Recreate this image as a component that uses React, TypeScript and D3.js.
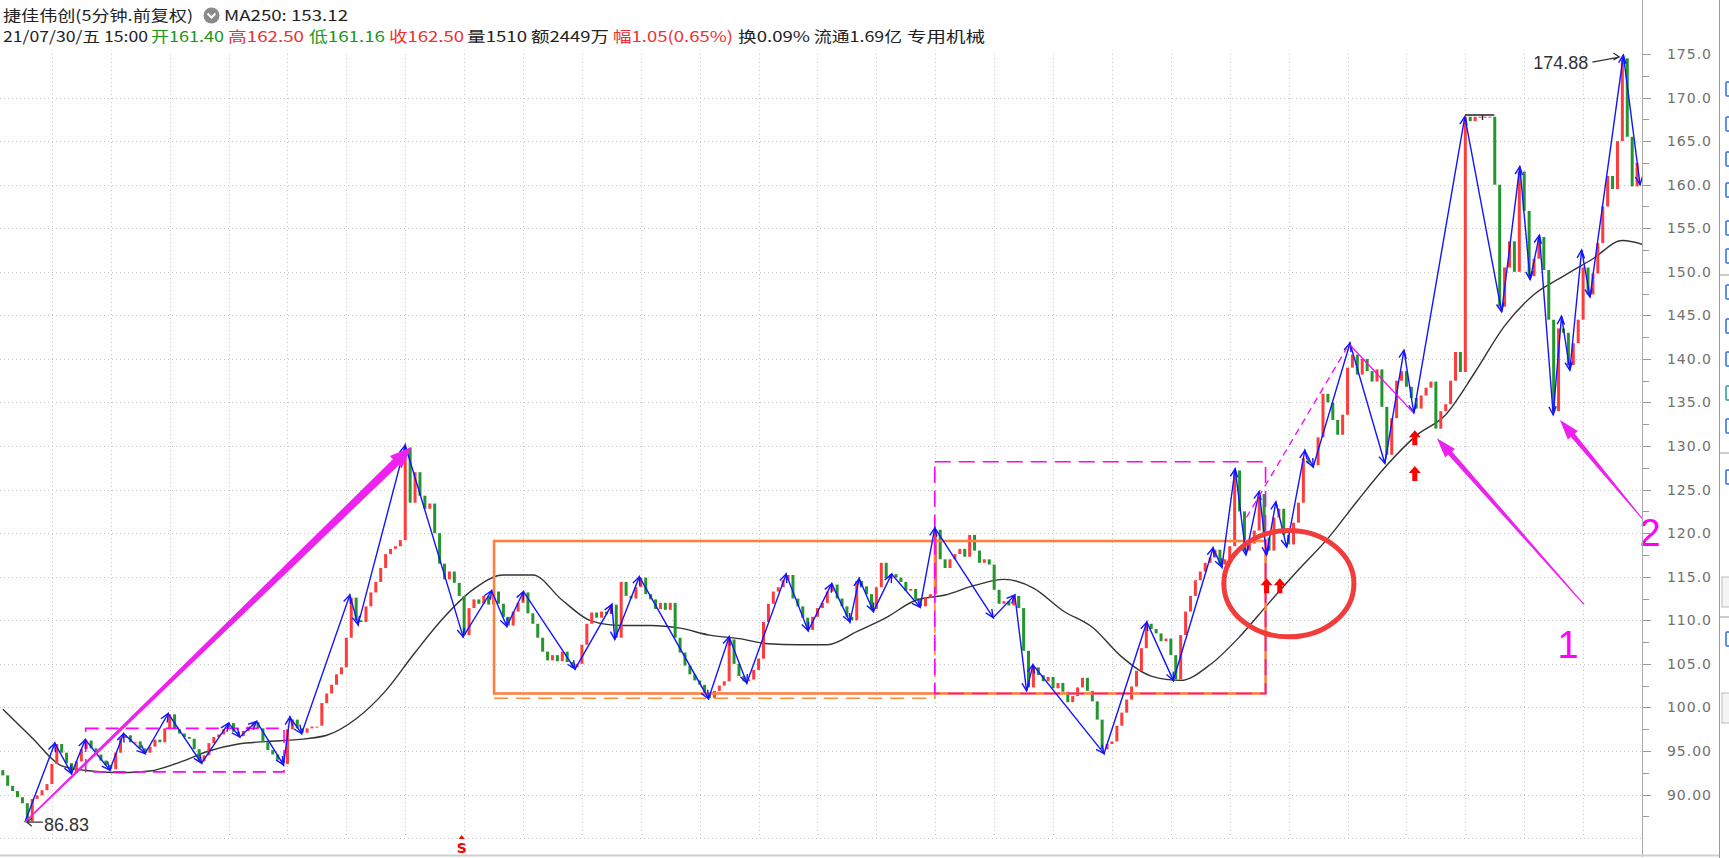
import React from "react";
import * as d3 from "d3";

const W = 1729;
const H = 858;

// header texts
const stockTitle = "捷佳伟创(5分钟.前复权)";
const maTitle = "MA250: 153.12";
const quoteParts = [
  { text: "21/07/30/五 15:00", color: "#222" },
  { text: "开161.40", color: "#1a961a" },
  { text: "高162.50", color: "#f03030" },
  { text: "低161.16", color: "#1a961a" },
  { text: "收162.50", color: "#f03030" },
  { text: "量1510", color: "#222" },
  { text: "额2449万", color: "#222" },
  { text: "幅1.05(0.65%)", color: "#f03030" },
  { text: "换0.09%", color: "#222" },
  { text: "流通1.69亿", color: "#222" },
  { text: "专用机械", color: "#222" },
];
// x start / width of each header piece
const quoteLayout = [
  [3, 145], [151, 73], [228, 76], [309, 76], [389, 75], [467, 60],
  [531, 78], [613, 120], [738, 72], [814, 88], [907, 78],
];

// price axis
const priceTicks = [175, 170, 165, 160, 155, 150, 145, 140, 135, 130, 125, 120, 115, 110, 105, 100, 95, 90];
const priceLabels = ["175.0", "170.0", "165.0", "160.0", "155.0", "150.0", "145.0", "140.0", "135.0", "130.0",
  "125.0", "120.0", "115.0", "110.0", "105.0", "100.0", "95.00", "90.00"];

// closes, one per 1/12 trading day
const closes = [
  92.2, 91.0, 90.4, 89.7, 89.0, 86.9, 89.5, 89.9, 90.5, 91.2,
  93.5, 95.8, 94.8, 93.6, 92.5, 93.8, 95.2, 96.2, 95.3, 94.6,
  93.9, 93.4, 92.9, 94.8, 96.5, 96.8, 96.0, 96.1, 95.3, 94.8,
  95.5, 96.3, 96.0, 97.6, 99.2, 97.5, 97.0, 96.6, 96.4, 95.2,
  93.8, 94.5, 95.9, 96.6, 96.9, 97.5, 98.2, 97.2, 96.7, 97.3,
  97.8, 98.3, 97.6, 96.0, 95.1, 94.6, 94.0, 93.5, 97.5, 98.6,
  97.6, 97.1, 97.6, 97.8, 97.9, 100.5, 101.6, 102.6, 103.8, 104.6,
  108.0, 112.6, 110.0, 109.8, 111.6, 113.2, 114.4, 116.0, 117.6, 118.2,
  118.5, 119.2, 129.8, 123.5, 127.0, 124.3, 122.8, 123.4, 120.0, 116.5,
  114.7, 115.6, 114.3, 112.8, 108.3, 111.4, 112.4, 111.9, 112.8, 111.8,
  113.3, 111.9, 110.4, 109.4, 111.0, 112.0, 113.2, 110.8, 109.6, 108.0,
  106.4, 105.4, 106.0, 105.3, 106.4, 105.2, 104.6, 105.0, 107.2, 109.6,
  110.9, 110.3, 111.0, 110.7, 111.8, 108.0, 114.4, 112.8, 112.5, 113.8,
  114.9, 113.0, 112.4, 111.3, 112.0, 111.2, 112.0, 108.0, 106.3, 104.8,
  103.8, 103.1, 102.6, 101.7, 101.1, 101.9, 102.5, 103.0, 107.8, 105.0,
  103.6, 103.0, 103.2, 104.3, 105.6, 109.8, 111.9, 113.3, 113.8, 114.6,
  115.2, 112.5, 111.6, 110.3, 108.9, 110.4, 111.4, 112.0, 113.3, 114.1,
  112.5, 111.6, 110.4, 110.0, 114.5, 113.9, 113.0, 111.3, 113.8, 116.6,
  114.8, 115.3, 114.9, 114.4, 113.4, 113.6, 112.4, 111.6, 112.6, 113.0,
  120.4, 117.0, 116.0, 117.0, 117.6, 118.2, 117.3, 119.8, 118.0, 116.6,
  117.0, 116.4, 113.5, 111.9, 112.2, 111.7, 112.8, 111.4, 106.5, 102.3,
  104.6, 103.7, 103.0, 103.5, 102.2, 102.8, 101.8, 100.6, 101.3, 102.3,
  103.4, 101.9, 100.7, 98.6, 95.2, 95.8, 96.1, 97.9, 99.4, 100.9,
  102.4, 104.2, 106.8, 109.6, 109.0, 108.5, 107.6, 107.9, 106.0, 103.2,
  108.3, 111.0, 112.8, 114.6, 115.6, 116.6, 117.2, 118.1, 116.4, 117.0,
  118.5, 127.2, 122.5, 118.0, 118.8, 120.3, 124.5, 119.5, 118.0, 121.8,
  122.8, 119.8, 118.7, 121.2, 123.5, 128.6, 128.0, 127.8, 131.0, 136.0,
  135.0, 133.0, 131.3, 133.6, 139.0, 140.5, 138.2, 140.0, 138.6, 137.4,
  138.8, 134.5, 129.0, 133.2, 137.5, 138.6, 136.8, 135.5, 134.3, 135.8,
  136.7, 137.4, 132.0, 134.0, 134.8, 137.5, 140.8, 138.5, 167.8, 167.3,
  167.8, 167.8, 167.8, 167.8, 160.0, 146.0, 150.5, 153.5, 150.0, 161.5,
  157.0, 149.5, 151.5, 154.0, 150.2, 144.5, 134.0, 143.5, 143.0, 139.3,
  141.8, 144.5, 150.5, 147.4, 149.8, 153.3, 157.5, 161.0, 159.5, 165.0,
  174.5, 165.5, 159.8, 162.5,
];

// MA250, one value every 6 bars
const ma250 = [
  99.8, 96.5, 93.3, 92.7, 92.5, 92.7, 93.7, 95.0, 95.8, 96.1,
  96.3, 96.8, 98.7, 101.9, 106.3, 110.4, 113.6, 115.2, 115.2, 112.3,
  109.9, 109.4, 109.4, 109.1, 108.3, 107.9, 107.3, 107.2, 107.2, 108.7,
  110.3, 112.3, 112.9, 114.0, 114.7, 113.7, 111.1, 109.2, 105.8, 103.6,
  103.1, 104.9, 108.1, 112.0, 115.8, 119.4, 123.7, 127.8, 131.2, 133.6,
  138.5, 143.8, 147.4, 149.5, 151.5, 153.6, 152.8,
];
const maStep = 6;

// zigzag pivots (bar position, price)
const zigIdx = [
  4.5, 10.6, 14.0, 16.8, 21.8, 24.6, 29.0, 33.7, 40.5, 46.0,
  48.3, 51.7, 57.2, 58.5, 60.9, 70.7, 72.4, 82.0, 93.8, 99.6,
  102.7, 106.1, 116.6, 124.1, 124.7, 129.7, 143.8, 148.0, 151.6, 159.6,
  164.1, 168.9, 172.6, 174.5, 177.4, 181.1, 186.9, 189.9, 201.8, 206.2,
  208.6, 209.9, 224.4, 233.1, 238.5, 246.6, 248.4, 251.1, 253.3, 256.0,
  257.5, 259.4, 261.6, 265.3, 267.0, 274.5, 281.6, 285.5, 287.5, 297.9,
  305.4, 309.1, 311.2, 313.1, 315.9, 317.6, 319.3, 321.7, 323.4, 330.2,
  333.6,
];
const zigPrice = [
  86.83, 95.9, 92.4, 96.3, 92.8, 97.0, 94.7, 99.3, 93.6, 98.2,
  96.6, 98.4, 93.4, 98.9, 97.0, 112.9, 109.5, 130.1, 108.1, 113.4,
  109.3, 113.3, 104.4, 111.8, 107.8, 115.0, 101.0, 108.1, 102.8, 115.3,
  108.8, 114.2, 109.8, 114.8, 111.0, 115.3, 111.5, 120.6, 110.3, 112.9,
  101.9, 104.9, 94.7, 109.8, 103.1, 118.3, 116.1, 127.4, 117.5, 124.8,
  117.5, 123.6, 118.4, 129.5, 127.6, 141.8, 128.0, 141.0, 133.8, 167.8,
  145.4, 162.1, 149.1, 154.2, 133.6, 144.9, 138.7, 152.5, 147.1, 174.88,
  160.0,
];

// drawn annotations, in bar / price units
const boxOrange = { i0: 100.1, i1: 257.3, p0: 119.1, p1: 101.6 };
const boxOrangeDash = { i0: 100.1, i1: 189.9, p0: 119.1, p1: 101.05 };
const boxMagentaL = { i0: 16.9, i1: 57.3, p0: 97.6, p1: 92.6 };
const boxMagentaR = { i0: 189.9, i1: 257.3, p0: 128.2, p1: 101.6 };
const ringBounds = { i0: 248.8, i1: 275.3, p0: 120.3, p1: 108.1 };
const trendUp = [[253.4, 121.8], [273.8, 141.2]];
const trendDown = [[274.5, 141.6], [287.3, 133.9]];
const bigArrow = [[4.5, 86.83], [83.3, 129.9]];
const arrowOne = [[322.2, 111.8], [292.2, 130.9]];
const arrowTwo = [[334, 121.7], [317.3, 133.0]];
const redMarks = [[257.5, 113.9], [260.2, 113.9], [287.7, 130.9], [287.7, 126.8]];
const lowPoint = { i: 4.5, p: 86.83, label: "86.83" };
const highPoint = { i: 330.2, p: 174.88, label: "174.88" };
const limitLine = { i0: 297.9, i1: 303.9, p: 168.0 };
const signalS = { i: 93.5, p: 83.3 };

const x = d3.scaleLinear().domain([0, 334]).range([2.8, 1642]);
const y = d3.scaleLinear().domain([85, 175]).range([838.1, 54]);

function taper(a: number[], b: number[], w0: number, w1: number, hl: number, hw: number) {
  const x1 = x(a[0]), y1 = y(a[1]), x2 = x(b[0]), y2 = y(b[1]);
  const L = Math.hypot(x2 - x1, y2 - y1);
  const ux = (x2 - x1) / L, uy = (y2 - y1) / L, nx = -uy, ny = ux;
  const bx = x2 - ux * hl, by = y2 - uy * hl;
  const pts = [
    [x1 + nx * w0 / 2, y1 + ny * w0 / 2], [bx + nx * w1 / 2, by + ny * w1 / 2],
    [bx + nx * hw / 2, by + ny * hw / 2], [x2, y2],
    [bx - nx * hw / 2, by - ny * hw / 2], [bx - nx * w1 / 2, by - ny * w1 / 2],
    [x1 - nx * w0 / 2, y1 - ny * w0 / 2],
  ];
  return "M" + pts.map((p) => p.map((v) => v.toFixed(1)).join(",")).join("L") + "Z";
}

const App: React.FC = () => {
  const maLine = d3
    .line<number>()
    .x((_, i) => x(i * maStep))
    .y((d) => y(d))
    .curve(d3.curveMonotoneX)(ma250);

  const zig = zigIdx.map((v, i) => [x(v), y(zigPrice[i])]);
  const zigPath = d3.line()(zig as [number, number][]);
  const heads = zig
    .slice(1)
    .map((q, i) => {
      const p = zig[i];
      const a = Math.atan2(q[1] - p[1], q[0] - p[0]);
      const L = 9, s = 0.42;
      return `M${q[0] - L * Math.cos(a - s)},${q[1] - L * Math.sin(a - s)}L${q[0]},${q[1]}L${q[0] - L * Math.cos(a + s)},${q[1] - L * Math.sin(a + s)}`;
    })
    .join("");

  const hGrid = d3.range(85, 171, 5);
  const vGrid = d3.range(10, 334, 12);
  const minorTicks = d3.range(87.5, 176, 5);

  const rect = (b: { i0: number; i1: number; p0: number; p1: number }) => ({
    x: x(b.i0), y: y(b.p0), width: x(b.i1) - x(b.i0), height: y(b.p1) - y(b.p0),
  });

  const toolbarIcons = [89, 124, 159, 190, 228, 256, 292, 326, 359, 393, 426, 477, 639];
  const toolbarSeps = [275, 453, 617];

  const hx = x(highPoint.i), hy = y(highPoint.p);
  const lx = x(lowPoint.i), ly = y(lowPoint.p);

  return (
    <svg width={W} height={H} style={{ position: "absolute", left: 0, top: 0, background: "#fff" }}
      fontFamily="'Noto Sans CJK SC', 'Noto Sans', sans-serif">
      <defs>
        <clipPath id="plot">
          <rect x={0} y={0} width={1642} height={H} />
        </clipPath>
      </defs>
      <rect width={W} height={H} fill="#fff" />

      {/* grid */}
      <g stroke="#c4c4c4" strokeDasharray="1 3" strokeWidth={1}>
        {hGrid.map((p) => (
          <line key={"h" + p} x1={0} x2={1642} y1={Math.round(y(p)) + 0.5} y2={Math.round(y(p)) + 0.5} />
        ))}
        {vGrid.map((i) => (
          <line key={"v" + i} x1={Math.round(x(i)) + 0.5} x2={Math.round(x(i)) + 0.5} y1={y(175)} y2={y(85)} />
        ))}
      </g>

      <g clipPath="url(#plot)">
        {/* MA250 */}
        <path d={maLine || ""} fill="none" stroke="#333" strokeWidth={1.4} />

        {/* candles */}
        <g strokeWidth={3}>
          {closes.map((c, i) => {
            const prev = i === 0 ? c + 0.6 : closes[i - 1];
            const up = c >= prev;
            const y1 = y(prev), y2 = y(c);
            return (
              <line key={i} x1={x(i)} x2={x(i)} y1={y1} y2={Math.abs(y2 - y1) < 1 ? y1 + 1 : y2}
                stroke={up ? "#ff3c3c" : "#23962d"} />
            );
          })}
        </g>

        {/* boxes */}
        <rect {...rect(boxMagentaL)} fill="none" stroke="#ff00ff" strokeWidth={1.6} strokeDasharray="13 7" />
        <path
          d={`M${x(boxOrangeDash.i0)},${y(boxOrangeDash.p1)}H${x(boxOrangeDash.i1)}V${y(boxOrangeDash.p0)}`}
          fill="none" stroke="#ff8c3c" strokeWidth={1.6} strokeDasharray="14 8" />
        <rect {...rect(boxOrange)} fill="none" stroke="#ff7f3f" strokeWidth={2.6} />
        <rect {...rect(boxMagentaR)} fill="none" stroke="#ff00ff" strokeWidth={1.6} strokeDasharray="16 8" />

        {/* zigzag */}
        <path d={zigPath || ""} fill="none" stroke="#1414ff" strokeWidth={1.4} />
        <path d={heads} fill="none" stroke="#1414ff" strokeWidth={1.4} />

        {/* trend lines */}
        <line x1={x(trendUp[0][0])} y1={y(trendUp[0][1])} x2={x(trendUp[1][0])} y2={y(trendUp[1][1])}
          stroke="#ff00ff" strokeWidth={1.3} strokeDasharray="7 5" />
        <line x1={x(trendDown[0][0])} y1={y(trendDown[0][1])} x2={x(trendDown[1][0])} y2={y(trendDown[1][1])}
          stroke="#ff00ff" strokeWidth={1.3} />

        {/* ring */}
        <ellipse cx={(x(ringBounds.i0) + x(ringBounds.i1)) / 2} cy={(y(ringBounds.p0) + y(ringBounds.p1)) / 2}
          rx={(x(ringBounds.i1) - x(ringBounds.i0)) / 2} ry={(y(ringBounds.p1) - y(ringBounds.p0)) / 2}
          fill="none" stroke="#f23b3b" strokeWidth={5} />

        {/* arrows */}
        <path d={taper(bigArrow[0], bigArrow[1], 1.5, 8.5, 22, 17)} fill="#ee22ee" />
        <path d={taper(arrowOne[0], arrowOne[1], 1, 5, 20, 13)} fill="#ee22ee" />
        <path d={taper(arrowTwo[0], arrowTwo[1], 1, 5, 20, 13)} fill="#ee22ee" />

        {/* red buy marks */}
        {redMarks.map(([i, p], k) => {
          const cx = x(i), cy = y(p);
          return (
            <path key={k} fill="#f00"
              d={`M${cx},${cy - 8}L${cx + 6},${cy - 1}H${cx + 2.5}V${cy + 7}H${cx - 2.5}V${cy - 1}H${cx - 6}Z`} />
          );
        })}

        {/* limit line */}
        <path d={`M${x(limitLine.i0)},${y(limitLine.p)}H${x(limitLine.i1)}M${x(limitLine.i0 + 3.6)},${y(limitLine.p)}v5`}
          stroke="#222" strokeWidth={1.3} fill="none" />

        {/* extreme labels */}
        <path d={`M${lx + 18},${ly}H${lx + 2}M${lx + 7},${ly - 4}L${lx + 2},${ly}L${lx + 7},${ly + 4}`}
          stroke="#333" strokeWidth={1.2} fill="none" />
        <text x={lx + 19} y={ly + 9} fontSize={18} fontFamily="'Liberation Sans', Arial, sans-serif" fill="#333">
          {lowPoint.label}
        </text>
        <path d={`M${hx - 31},${hy + 7}L${hx - 4},${hy + 2}M${hx - 10},${hy - 2}L${hx - 4},${hy + 2}L${hx - 10},${hy + 5}`}
          stroke="#333" strokeWidth={1.2} fill="none" />
        <text x={hx - 35} y={hy + 14} textAnchor="end" fontSize={18}
          fontFamily="'Liberation Sans', Arial, sans-serif" fill="#333">
          {highPoint.label}
        </text>

        {/* S signal */}
        <path d={`M${x(signalS.i) - 3},${y(signalS.p) - 14}l3,-4l3,4Z`} fill="#f00" />
        <text x={x(signalS.i)} y={y(signalS.p)} textAnchor="middle" fontSize={14} fontWeight="bold" fill="#f00"
          fontFamily="'DejaVu Sans', sans-serif">S</text>

        <text x={1568} y={658} textAnchor="middle" fontSize={38} fill="#ff00ff"
          fontFamily="'Liberation Sans', Arial, sans-serif">1</text>
      </g>
      <text x={1650} y={546} textAnchor="middle" fontSize={38} fill="#ff00ff"
        fontFamily="'Liberation Sans', Arial, sans-serif">2</text>

      {/* price axis */}
      <line x1={1642.5} x2={1642.5} y1={0} y2={857} stroke="#a8a8a8" strokeWidth={1} />
      <line x1={0} x2={1719} y1={855.5} y2={855.5} stroke="#cfcfcf" strokeWidth={2} />
      <g stroke="#999">
        {priceTicks.map((p) => (
          <line key={p} x1={1643} x2={1651} y1={Math.round(y(p)) + 0.5} y2={Math.round(y(p)) + 0.5} />
        ))}
        {minorTicks.map((p) => (
          <line key={p} x1={1643} x2={1649} y1={Math.round(y(p)) + 0.5} y2={Math.round(y(p)) + 0.5} />
        ))}
      </g>
      <g fontFamily="'DejaVu Sans', sans-serif" fontSize={14} fill="#707070" letterSpacing={1}>
        {priceTicks.map((p, k) => (
          <text key={p} x={1712} y={y(p) + 5} textAnchor="end">{priceLabels[k]}</text>
        ))}
      </g>

      {/* side toolbar stub */}
      <line x1={1719.5} x2={1719.5} y1={0} y2={H} stroke="#9a9a9a" />
      {toolbarIcons.map((t, k) => (
        <rect key={k} x={1726} y={t - 7} width={12} height={14} rx={1} fill="#fff"
          stroke={k === 9 ? "#2a9a8a" : "#2a6fe0"} strokeWidth={1.5} />
      ))}
      {toolbarSeps.map((t) => (
        <line key={t} x1={1720} x2={1729} y1={t} y2={t} stroke="#999" />
      ))}
      <rect x={1722} y={577} width={12} height={30} fill="#f4f4f4" stroke="#bbb" />
      <rect x={1722} y={693} width={12} height={30} fill="#f4f4f4" stroke="#bbb" />

      {/* header */}
      <text x={3} y={21} fontSize={15} fill="#222" textLength={190} lengthAdjust="spacingAndGlyphs">{stockTitle}</text>
      <circle cx={211.5} cy={15.5} r={8} fill="#8a8a8a" />
      <path d="M207.5,13.5L211.5,17.5L215.5,13.5" stroke="#fff" strokeWidth={2} fill="none" />
      <text x={224} y={21} fontSize={15} fill="#222" textLength={124} lengthAdjust="spacingAndGlyphs">{maTitle}</text>
      {quoteParts.map((q, k) => (
        <text key={k} x={quoteLayout[k][0]} y={42} fontSize={15} fill={q.color}
          textLength={quoteLayout[k][1]} lengthAdjust="spacingAndGlyphs">{q.text}</text>
      ))}
    </svg>
  );
};

export default App;
